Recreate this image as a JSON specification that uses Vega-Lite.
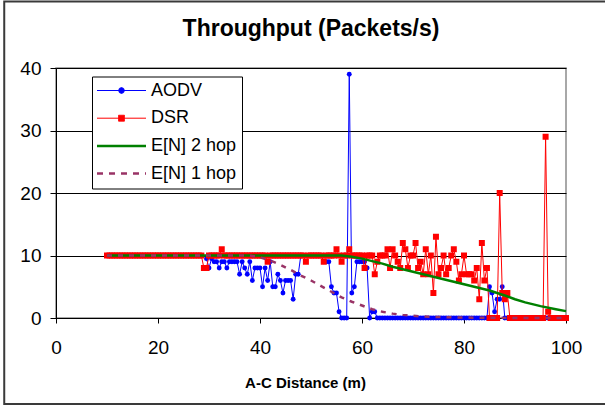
{
  "$schema": "https://vega.github.io/schema/vega-lite/v6.json",
  "width": 510,
  "height": 250,
  "autosize": {"type": "none"},
  "padding": {"left": 56, "top": 68, "right": 39, "bottom": 91},
  "background": "#ffffff",
  "config": {
    "font": "Liberation Sans",
    "view": {"stroke": "#8c8c8c", "strokeWidth": 1.5}
  },
  "title": {
    "text": "Throughput (Packets/s)",
    "font": "Liberation Sans",
    "fontSize": 23,
    "fontWeight": "bold",
    "color": "#000000",
    "anchor": "middle",
    "offset": -41
  },
  "datasets": {
    "runs": [
      {"d":10,"dsr":10},{"d":10.5,"dsr":10},{"d":11,"dsr":10},{"d":11.5,"dsr":10},{"d":12,"dsr":10},{"d":12.5,"dsr":10},{"d":13,"dsr":10},{"d":13.5,"dsr":10},{"d":14,"dsr":10},{"d":14.5,"dsr":10},
      {"d":15,"dsr":10},{"d":15.5,"dsr":10},{"d":16,"dsr":10},{"d":16.5,"dsr":10},{"d":17,"dsr":10},{"d":17.5,"dsr":10},{"d":18,"dsr":10},{"d":18.5,"dsr":10},{"d":19,"dsr":10},{"d":19.5,"dsr":10},
      {"d":20,"dsr":10},{"d":20.5,"dsr":10},{"d":21,"dsr":10},{"d":21.5,"dsr":10},{"d":22,"dsr":10},{"d":22.5,"dsr":10},{"d":23,"dsr":10},{"d":23.5,"dsr":10},{"d":24,"dsr":10},{"d":24.5,"dsr":10},
      {"d":25,"dsr":10},{"d":25.5,"dsr":10},{"d":26,"dsr":10},{"d":26.5,"dsr":10},{"d":27,"dsr":10},{"d":27.5,"dsr":10},{"d":28,"dsr":10},{"d":28.5,"dsr":10},{"d":29,"dsr":8},
      {"d":29.5,"dsr":8,"aodv":9.5},{"d":30,"dsr":10,"aodv":8},{"d":30.5,"dsr":10,"aodv":9.5},{"d":31,"dsr":10,"aodv":9},{"d":31.5,"dsr":10,"aodv":9},
      {"d":32,"dsr":10,"aodv":8},{"d":32.5,"dsr":11,"aodv":9},{"d":33,"dsr":10,"aodv":9},{"d":33.5,"dsr":10,"aodv":8},{"d":34,"dsr":10,"aodv":9},
      {"d":34.5,"dsr":10,"aodv":9},{"d":35,"dsr":10,"aodv":9},{"d":35.5,"dsr":10,"aodv":9},{"d":36,"dsr":10,"aodv":7},{"d":36.5,"dsr":10,"aodv":9},
      {"d":37,"dsr":10,"aodv":8},{"d":37.5,"dsr":10,"aodv":7},{"d":38,"dsr":10,"aodv":9},{"d":38.5,"dsr":10,"aodv":6},{"d":39,"dsr":10,"aodv":8},
      {"d":39.5,"dsr":10,"aodv":8},{"d":40,"dsr":10,"aodv":8},{"d":40.5,"dsr":10,"aodv":5},{"d":41,"dsr":10,"aodv":8},{"d":41.5,"dsr":9,"aodv":6},
      {"d":42,"dsr":10,"aodv":9},{"d":42.5,"dsr":10,"aodv":5},{"d":43,"dsr":10,"aodv":5},{"d":43.5,"dsr":10,"aodv":7},{"d":44,"dsr":10,"aodv":6},
      {"d":44.5,"dsr":10,"aodv":4},{"d":45,"dsr":10,"aodv":6},{"d":45.5,"dsr":10,"aodv":6},{"d":46,"dsr":10,"aodv":6},{"d":46.5,"dsr":10,"aodv":3},
      {"d":47,"dsr":10,"aodv":7},{"d":47.5,"dsr":10,"aodv":7},{"d":48,"dsr":10,"aodv":10},{"d":48.5,"dsr":10,"aodv":10},{"d":49,"dsr":9,"aodv":10},
      {"d":49.5,"dsr":10,"aodv":10},{"d":50,"dsr":10,"aodv":10},{"d":50.5,"dsr":10,"aodv":10},{"d":51,"dsr":10,"aodv":10},{"d":51.5,"dsr":10,"aodv":10},
      {"d":52,"dsr":10,"aodv":10},{"d":52.5,"dsr":9,"aodv":9},{"d":53,"dsr":10,"aodv":9},{"d":53.5,"dsr":10,"aodv":9},{"d":54,"dsr":10,"aodv":5},
      {"d":54.5,"dsr":10,"aodv":4},{"d":55,"dsr":11,"aodv":4},{"d":55.5,"dsr":10,"aodv":1},{"d":56,"dsr":9,"aodv":0},{"d":56.5,"dsr":10,"aodv":0},
      {"d":57,"dsr":10,"aodv":0},{"d":57.5,"dsr":11,"aodv":39},{"d":58,"dsr":10,"aodv":4},{"d":58.5,"dsr":10,"aodv":5},{"d":59,"dsr":10,"aodv":9},
      {"d":59.5,"dsr":10,"aodv":9},{"d":60,"dsr":10,"aodv":9},{"d":60.5,"dsr":8,"aodv":9},{"d":61,"dsr":10,"aodv":8},{"d":61.5,"dsr":10,"aodv":0},
      {"d":62,"dsr":10,"aodv":1},{"d":62.5,"dsr":7,"aodv":1},{"d":63,"dsr":9,"aodv":0},{"d":63.5,"dsr":10,"aodv":0},{"d":64,"dsr":10,"aodv":0},
      {"d":64.5,"dsr":10,"aodv":0},{"d":65,"dsr":11,"aodv":0},{"d":65.5,"dsr":8,"aodv":0},{"d":66,"dsr":11,"aodv":0},{"d":66.5,"dsr":10,"aodv":0},
      {"d":67,"dsr":9,"aodv":0},{"d":67.5,"dsr":8,"aodv":0},{"d":68,"dsr":12,"aodv":0},{"d":68.5,"dsr":11,"aodv":0},{"d":69,"dsr":8,"aodv":0},
      {"d":69.5,"dsr":10,"aodv":0},{"d":70,"dsr":10,"aodv":0},{"d":70.5,"dsr":12,"aodv":0},{"d":71,"dsr":8,"aodv":0},{"d":71.5,"dsr":9,"aodv":0},
      {"d":72,"dsr":7,"aodv":0},{"d":72.5,"dsr":11,"aodv":0},{"d":73,"dsr":7,"aodv":0},{"d":73.5,"dsr":10,"aodv":0},{"d":74,"dsr":4,"aodv":0},
      {"d":74.5,"dsr":13,"aodv":0},{"d":75,"dsr":7,"aodv":0},{"d":75.5,"dsr":8,"aodv":0},{"d":76,"dsr":10,"aodv":0},{"d":76.5,"dsr":7,"aodv":0},
      {"d":77,"dsr":8,"aodv":0},{"d":77.5,"dsr":10,"aodv":0},{"d":78,"dsr":11,"aodv":0},{"d":78.5,"dsr":9,"aodv":0},{"d":79,"dsr":6,"aodv":0},
      {"d":79.5,"dsr":7,"aodv":0},{"d":80,"dsr":10,"aodv":0},{"d":80.5,"dsr":7,"aodv":0},{"d":81,"dsr":7,"aodv":0},{"d":81.5,"dsr":7,"aodv":0},
      {"d":82,"dsr":6,"aodv":0},{"d":82.5,"dsr":8,"aodv":0},{"d":83,"dsr":3,"aodv":0},{"d":83.5,"dsr":12,"aodv":0},{"d":84,"dsr":6,"aodv":0},
      {"d":84.5,"dsr":8,"aodv":0},{"d":85,"dsr":0,"aodv":5},{"d":85.5,"dsr":0,"aodv":4},{"d":86,"dsr":0,"aodv":1},{"d":86.5,"dsr":0,"aodv":3},
      {"d":87,"dsr":20,"aodv":3},{"d":87.5,"dsr":4,"aodv":5},{"d":88,"dsr":3,"aodv":0},{"d":88.5,"dsr":4,"aodv":0},{"d":89,"dsr":0,"aodv":0},
      {"d":89.5,"dsr":0,"aodv":0},{"d":90,"dsr":0,"aodv":0},{"d":90.5,"dsr":0,"aodv":0},{"d":91,"dsr":0,"aodv":0},{"d":91.5,"dsr":0,"aodv":0},
      {"d":92,"dsr":0,"aodv":0},{"d":92.5,"dsr":0,"aodv":0},{"d":93,"dsr":0,"aodv":0},{"d":93.5,"dsr":0,"aodv":0},{"d":94,"dsr":0,"aodv":0},
      {"d":94.5,"dsr":0,"aodv":0},{"d":95,"dsr":0,"aodv":0},{"d":95.5,"dsr":0,"aodv":0},{"d":96,"dsr":29,"aodv":0},{"d":96.5,"dsr":1,"aodv":0},
      {"d":97,"dsr":0,"aodv":0},{"d":97.5,"dsr":0,"aodv":0},{"d":98,"dsr":0,"aodv":0},{"d":98.5,"dsr":0,"aodv":0},{"d":99,"dsr":0,"aodv":0},
      {"d":99.5,"dsr":0,"aodv":0},{"d":100,"dsr":0,"aodv":0}
    ],
    "expected": [
      {"d":10,"hop2":10,"hop1":10},{"d":20,"hop2":10,"hop1":10},{"d":30,"hop2":10,"hop1":10},{"d":36,"hop2":10,"hop1":10},
      {"d":38,"hop2":10,"hop1":10},{"d":40,"hop2":10,"hop1":9.7},{"d":42,"hop2":10,"hop1":9.2},{"d":44,"hop2":10,"hop1":8.5},
      {"d":46,"hop2":10,"hop1":7.7},{"d":48,"hop2":10,"hop1":6.8},{"d":50,"hop2":10,"hop1":6.0},{"d":52,"hop2":10,"hop1":5.1},
      {"d":54,"hop2":10,"hop1":4.2},{"d":56,"hop2":10,"hop1":3.3},{"d":58,"hop2":9.8,"hop1":2.6},{"d":60,"hop2":9.5,"hop1":2.0},
      {"d":62,"hop2":9.1,"hop1":1.4},{"d":64,"hop2":8.7,"hop1":1.0},{"d":66,"hop2":8.2,"hop1":0.7},{"d":68,"hop2":7.8,"hop1":0.5},
      {"d":70,"hop2":7.4,"hop1":0.35},{"d":72,"hop2":7.0,"hop1":0.25},{"d":75,"hop2":6.4,"hop1":0.15},{"d":78,"hop2":5.8,"hop1":0.1},
      {"d":80,"hop2":5.4,"hop1":0.07},{"d":82,"hop2":5.0,"hop1":0.05},{"d":85,"hop2":4.4,"hop1":0.03},{"d":88,"hop2":3.6,"hop1":0.02},
      {"d":90,"hop2":3.0,"hop1":0.02},{"d":92,"hop2":2.5,"hop1":0.01},{"d":95,"hop2":1.9,"hop1":0.01},{"d":98,"hop2":1.4,"hop1":0.01},
      {"d":100,"hop2":1.1,"hop1":0.01}
    ],
    "frame": [{"x1": -10.15, "x2": 110, "y1": 50.65, "y2": -13.75}]
  },
  "encoding": {
    "x": {
      "field": "d",
      "type": "quantitative",
      "scale": {"domain": [0, 100], "nice": false, "zero": false},
      "axis": {
        "title": "A-C Distance (m)",
        "titleFont": "Liberation Sans",
        "titleFontSize": 15,
        "titleFontWeight": "bold",
        "titleColor": "#000000",
        "titleX": 249,
        "titleY": 57,
        "titleBaseline": "top",
        "values": [0, 20, 40, 60, 80, 100],
        "grid": false,
        "domainColor": "#000000",
        "domainWidth": 1,
        "tickColor": "#000000",
        "tickSize": 5,
        "labelFontSize": 19,
        "labelColor": "#000000",
        "labelPadding": 15,
        "labelFlush": false
      }
    }
  },
  "layer": [
    {
      "data": {"name": "runs"},
      "mark": {"type": "line", "strokeWidth": 1, "point": {"filled": true, "shape": "circle", "size": 24, "opacity": 1}},
      "encoding": {
        "y": {
          "field": "aodv",
          "type": "quantitative",
          "scale": {"domain": [0, 40], "nice": false},
          "axis": {
            "title": null,
            "values": [0, 10, 20, 30, 40],
            "grid": true,
            "gridColor": "#000000",
            "gridWidth": 1,
            "domainColor": "#000000",
            "tickColor": "#000000",
            "tickSize": 6,
            "labelFontSize": 19,
            "labelColor": "#000000",
            "labelPadding": 9
          }
        },
        "color": {
          "datum": "AODV",
          "scale": {
            "domain": ["AODV", "DSR", "E[N] 2 hop", "E[N] 1 hop"],
            "range": ["#0000ff", "#ff0000", "#008000", "#993366"]
          },
          "legend": {
            "orient": "none",
            "legendX": 36,
            "legendY": 8.5,
            "title": null,
            "strokeColor": "#000000",
            "fillColor": "#ffffff",
            "padding": 5,
            "labelFont": "Liberation Sans",
            "labelFontSize": 18,
            "labelColor": "#000000",
            "labelOffset": 5,
            "symbolSize": 2401,
            "rowPadding": 9.7,
            "encode": {
              "symbols": {
                "update": {
                  "x": {"value": 24.5},
                  "shape": {"signal": "datum.value === 'AODV' ? 'M-1,0H1M0.12,0L0.085,0.085L0,0.12L-0.085,0.085L-0.12,0L-0.085,-0.085L0,-0.12L0.085,-0.085Z' : datum.value === 'DSR' ? 'M-1,0H1M-0.12,-0.12H0.12V0.12H-0.12Z' : 'M-1,0H1'"},
                  "fill": {"signal": "datum.value === 'AODV' ? '#0000ff' : datum.value === 'DSR' ? '#ff0000' : 'transparent'"},
                  "stroke": {"signal": "datum.value === 'AODV' ? '#0000ff' : datum.value === 'DSR' ? '#ff0000' : datum.value === 'E[N] 2 hop' ? '#008000' : '#993366'"},
                  "strokeWidth": {"signal": "datum.value === 'E[N] 2 hop' || datum.value === 'E[N] 1 hop' ? 2.5 : 1"},
                  "strokeDash": {"signal": "datum.value === 'E[N] 1 hop' ? [6, 6] : [1, 0]"},
                  "opacity": {"value": 1}
                }
              },
              "labels": {
                "update": {
                  "x": {"value": 54},
                  "align": {"value": "left"}
                }
              }
            }
          }
        }
      }
    },
    {
      "data": {"name": "runs"},
      "mark": {"type": "line", "strokeWidth": 1, "point": {"filled": true, "shape": "square", "size": 36, "opacity": 1}},
      "encoding": {
        "y": {"field": "dsr", "type": "quantitative"},
        "color": {"datum": "DSR"}
      }
    },
    {
      "data": {"name": "expected"},
      "mark": {"type": "line", "strokeWidth": 2.5},
      "encoding": {
        "y": {"field": "hop2", "type": "quantitative"},
        "color": {"datum": "E[N] 2 hop"}
      }
    },
    {
      "data": {"name": "expected"},
      "mark": {"type": "line", "strokeWidth": 2.5, "strokeDash": [5, 6]},
      "encoding": {
        "y": {"field": "hop1", "type": "quantitative"},
        "color": {"datum": "E[N] 1 hop"}
      }
    },
    {
      "data": {"name": "frame"},
      "mark": {"type": "rect", "filled": false, "stroke": "#3a3a3a", "strokeWidth": 2, "clip": false},
      "encoding": {
        "x": {"field": "x1", "type": "quantitative"},
        "x2": {"field": "x2"},
        "y": {"field": "y1", "type": "quantitative"},
        "y2": {"field": "y2"}
      }
    }
  ]
}
